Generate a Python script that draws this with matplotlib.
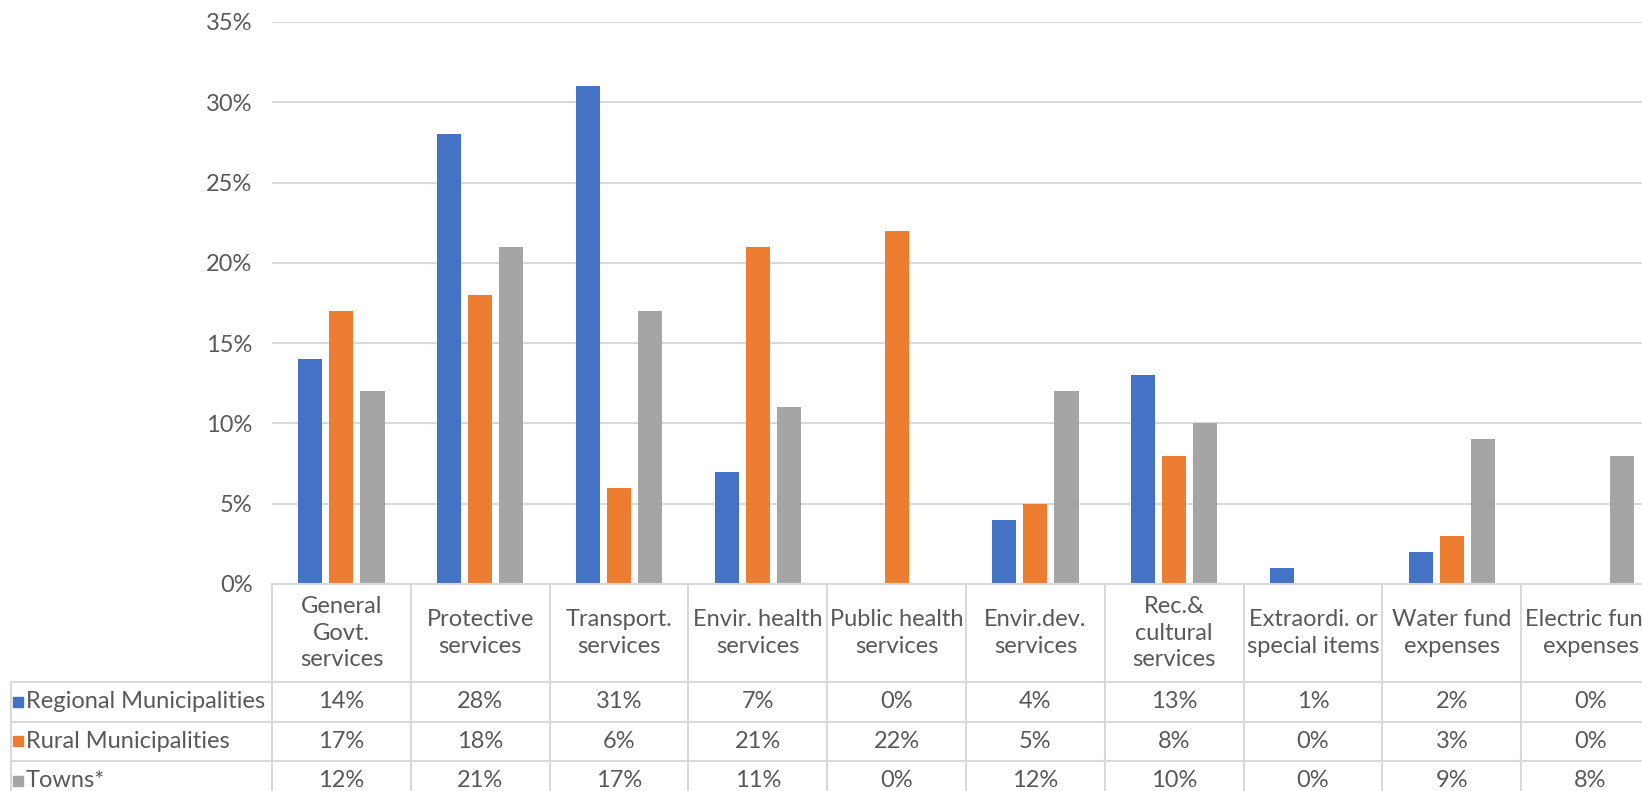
import matplotlib
matplotlib.use("Agg")
import matplotlib.pyplot as plt
import numpy as np

categorias = ["General\nGovt.\nservices", "Protective\nservices", "Transport.\nservices",
              "Envir. health\nservices", "Public health\nservices", "Envir.dev.\nservices",
              "Rec.&\ncultural\nservices", "Extraordi. or\nspecial items", "Water fund\nexpenses",
              "Electric fund\nexpenses"]
series = ["Regional Municipalities", "Rural Municipalities", "Towns*"]
regional = [14, 28, 31, 7, 0, 4, 13, 1, 2, 0]
rural = [17, 18, 6, 21, 22, 5, 8, 0, 3, 0]
towns = [12, 21, 17, 11, 0, 12, 10, 0, 9, 8]
colores = ["#4472C4", "#ED7D31", "#A5A5A5"]
y_ticks = [0, 5, 10, 15, 20, 25, 30, 35]

W, H = 1642, 791
TXT = "#595959"
GRID = "#D9D9D9"
plt.rcParams['font.family'] = ['Lato', 'DejaVu Sans']
FS = 17

fig = plt.figure(figsize=(W / 100, H / 100), dpi=100)

# geometria en pixeles
x_izq, x_der = 272, 1660
y_top, y_cero = 22, 584
col_w = (x_der - x_izq) / len(categorias)

ax = fig.add_axes([x_izq / W, (H - y_cero) / H, (x_der - x_izq) / W, (y_cero - y_top) / H])
n = len(categorias)
x = np.arange(n)
paso, ancho = 0.224, 0.174
for k, (vals, col) in enumerate(zip([regional, rural, towns], colores)):
    ax.bar(x + (k - 1) * paso, np.array(vals) / 100, width=ancho, color=col, zorder=3)

ax.set_xlim(-0.5, n - 0.5)
ax.set_ylim(0, 0.35)
ax.set_yticks([v / 100 for v in y_ticks])
ax.set_yticklabels([f"{v}%" for v in y_ticks], color=TXT, fontsize=FS)
ax.tick_params(axis='y', length=0, pad=14)
ax.set_xticks([])
ax.grid(axis='y', color=GRID, linewidth=1.5, zorder=0)
for s in ax.spines.values():
    s.set_visible(False)

# tabla de datos
h_head, h_row = 98, 39.5
t_h = h_head + 3 * h_row
tax = fig.add_axes([x_izq / W, (H - y_cero - t_h) / H, (x_der - x_izq) / W, t_h / H])
tax.set_xlim(-0.5, n - 0.5)
tax.set_ylim(t_h, 0)
tax.axis('off')


def px_x(px):
    return (px - x_izq) / col_w - 0.5


x_tab = px_x(10.5)
lw = 1.5
for i in range(n + 1):
    tax.plot([i - 0.5, i - 0.5], [0, t_h], color=GRID, lw=lw, clip_on=False)
tax.plot([x_tab, x_tab], [h_head, t_h], color=GRID, lw=lw, clip_on=False)
tax.plot([-0.5, n - 0.5], [0, 0], color=GRID, lw=lw, clip_on=False)
for r in range(3):
    yy = h_head + r * h_row
    tax.plot([x_tab, n - 0.5], [yy, yy], color=GRID, lw=lw, clip_on=False)

for i, cat in enumerate(categorias):
    tax.text(i, h_head / 2, cat, ha='center', va='center', color=TXT, fontsize=FS,
             linespacing=1.3, clip_on=False)

for r, (nombre, vals, col) in enumerate(zip(series, [regional, rural, towns], colores)):
    yc = h_head + (r + 0.5) * h_row
    tax.plot(px_x(17.5), yc, marker='s', markersize=7, color=col, clip_on=False)
    tax.text(px_x(26), yc, nombre, ha='left', va='center', color=TXT, fontsize=FS, clip_on=False)
    for i, v in enumerate(vals):
        tax.text(i, yc, f"{v}%", ha='center', va='center', color=TXT, fontsize=FS, clip_on=False)

fig.savefig("out.png", dpi=100)
